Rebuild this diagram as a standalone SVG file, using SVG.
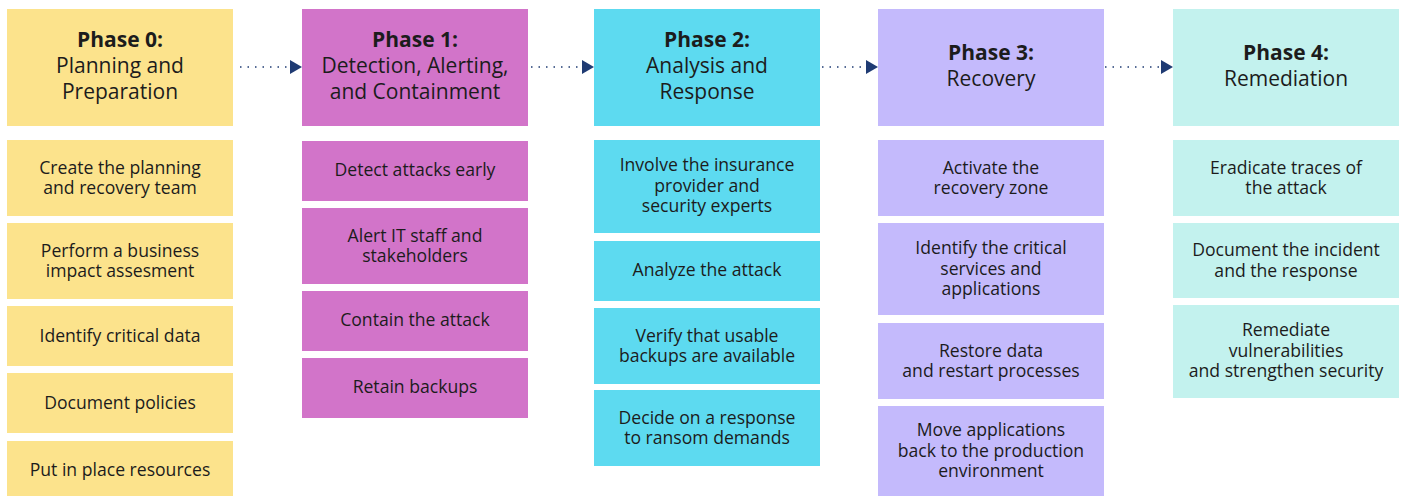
<svg xmlns="http://www.w3.org/2000/svg" width="1403" height="496" viewBox="0 0 1403 496">
<defs>
<style>
text{font-family:"Open Sans","Noto Sans","Liberation Sans",sans-serif;fill:#1c1c1c;text-anchor:middle}
.h{font-size:21px}
.hb{font-weight:bold}
.s{font-size:17.6px}
.p0{fill:#fce38c}
.p1{fill:#d274c9}
.p2{fill:#5ddaf0}
.p3{fill:#c4bafc}
.p4{fill:#c3f2ee}
.con{stroke:#1f3b73;stroke-width:1.5;stroke-dasharray:1.5 6;fill:none}
</style>
<marker id="ah" markerUnits="userSpaceOnUse" viewBox="0 0 12 14" refX="0" refY="7" markerWidth="12" markerHeight="14" orient="auto">
<path d="M0,0 L12,7 L0,14 Z" fill="#1f3b73"/>
</marker>
</defs>
<rect width="1403" height="496" fill="#ffffff"/>

<g id="connectors">
<line class="con" x1="240" y1="67" x2="290" y2="67" marker-end="url(#ah)"/>
<line class="con" x1="531" y1="67" x2="582" y2="67" marker-end="url(#ah)"/>
<line class="con" x1="822" y1="67" x2="866" y2="67" marker-end="url(#ah)"/>
<line class="con" x1="1105" y1="67" x2="1161" y2="67" marker-end="url(#ah)"/>
</g>

<!-- Phase 0 -->
<g id="phase0">
<rect class="p0" x="7" y="9" width="226" height="117"/>
<text class="h" x="120" y="47"><tspan class="hb">Phase 0:</tspan><tspan x="120" dy="26">Planning and</tspan><tspan x="120" dy="26">Preparation</tspan></text>
</g>
<g id="p0-1"><rect class="p0" x="7" y="140" width="226" height="76"/><text class="s" x="120" y="173.5">Create the planning<tspan x="120" dy="20.5">and recovery team</tspan></text></g>
<g id="p0-2"><rect class="p0" x="7" y="223" width="226" height="76"/><text class="s" x="120" y="256.5">Perform a business<tspan x="120" dy="20.5">impact assesment</tspan></text></g>
<g id="p0-3"><rect class="p0" x="7" y="306" width="226" height="60"/><text class="s" x="120" y="341.5">Identify critical data</text></g>
<g id="p0-4"><rect class="p0" x="7" y="373" width="226" height="60"/><text class="s" x="120" y="408.5">Document policies</text></g>
<g id="p0-5"><rect class="p0" x="7" y="441" width="226" height="55"/><text class="s" x="120" y="476">Put in place resources</text></g>

<!-- Phase 1 -->
<g id="phase1">
<rect class="p1" x="302" y="9" width="226" height="117"/>
<text class="h" x="415" y="47"><tspan class="hb">Phase 1:</tspan><tspan x="415" dy="26">Detection, Alerting,</tspan><tspan x="415" dy="26">and Containment</tspan></text>
</g>
<g id="p1-1"><rect class="p1" x="302" y="141" width="226" height="60"/><text class="s" x="415" y="176">Detect attacks early</text></g>
<g id="p1-2"><rect class="p1" x="302" y="208" width="226" height="76"/><text class="s" x="415" y="241.5">Alert IT staff and<tspan x="415" dy="20.5">stakeholders</tspan></text></g>
<g id="p1-3"><rect class="p1" x="302" y="291" width="226" height="60"/><text class="s" x="415" y="326">Contain the attack</text></g>
<g id="p1-4"><rect class="p1" x="302" y="358" width="226" height="60"/><text class="s" x="415" y="393">Retain backups</text></g>

<!-- Phase 2 -->
<g id="phase2">
<rect class="p2" x="594" y="9" width="226" height="117"/>
<text class="h" x="707" y="47"><tspan class="hb">Phase 2:</tspan><tspan x="707" dy="26">Analysis and</tspan><tspan x="707" dy="26">Response</tspan></text>
</g>
<g id="p2-1"><rect class="p2" x="594" y="140" width="226" height="93"/><text class="s" x="707" y="171">Involve the insurance<tspan x="707" dy="20.5">provider and</tspan><tspan x="707" dy="20.5">security experts</tspan></text></g>
<g id="p2-2"><rect class="p2" x="594" y="241" width="226" height="60"/><text class="s" x="707" y="276">Analyze the attack</text></g>
<g id="p2-3"><rect class="p2" x="594" y="308" width="226" height="76"/><text class="s" x="707" y="341.5">Verify that usable<tspan x="707" dy="20.5">backups are available</tspan></text></g>
<g id="p2-4"><rect class="p2" x="594" y="390" width="226" height="76"/><text class="s" x="707" y="423.5">Decide on a response<tspan x="707" dy="20.5">to ransom demands</tspan></text></g>

<!-- Phase 3 -->
<g id="phase3">
<rect class="p3" x="878" y="9" width="226" height="117"/>
<text class="h" x="991" y="60"><tspan class="hb">Phase 3:</tspan><tspan x="991" dy="26">Recovery</tspan></text>
</g>
<g id="p3-1"><rect class="p3" x="878" y="140" width="226" height="76"/><text class="s" x="991" y="173.5">Activate the<tspan x="991" dy="20.5">recovery zone</tspan></text></g>
<g id="p3-2"><rect class="p3" x="878" y="223" width="226" height="92"/><text class="s" x="991" y="254">Identify the critical<tspan x="991" dy="20.5">services and</tspan><tspan x="991" dy="20.5">applications</tspan></text></g>
<g id="p3-3"><rect class="p3" x="878" y="323" width="226" height="76"/><text class="s" x="991" y="356.5">Restore data<tspan x="991" dy="20.5">and restart processes</tspan></text></g>
<g id="p3-4"><rect class="p3" x="878" y="406" width="226" height="90"/><text class="s" x="991" y="436">Move applications<tspan x="991" dy="20.5">back to the production</tspan><tspan x="991" dy="20.5">environment</tspan></text></g>

<!-- Phase 4 -->
<g id="phase4">
<rect class="p4" x="1173" y="9" width="226" height="117"/>
<text class="h" x="1286" y="60"><tspan class="hb">Phase 4:</tspan><tspan x="1286" dy="26">Remediation</tspan></text>
</g>
<g id="p4-1"><rect class="p4" x="1173" y="140" width="226" height="76"/><text class="s" x="1286" y="173.5">Eradicate traces of<tspan x="1286" dy="20.5">the attack</tspan></text></g>
<g id="p4-2"><rect class="p4" x="1173" y="223" width="226" height="75"/><text class="s" x="1286" y="256">Document the incident<tspan x="1286" dy="20.5">and the response</tspan></text></g>
<g id="p4-3"><rect class="p4" x="1173" y="305" width="226" height="93"/><text class="s" x="1286" y="336">Remediate<tspan x="1286" dy="20.5">vulnerabilities</tspan><tspan x="1286" dy="20.5">and strengthen security</tspan></text></g>
</svg>
